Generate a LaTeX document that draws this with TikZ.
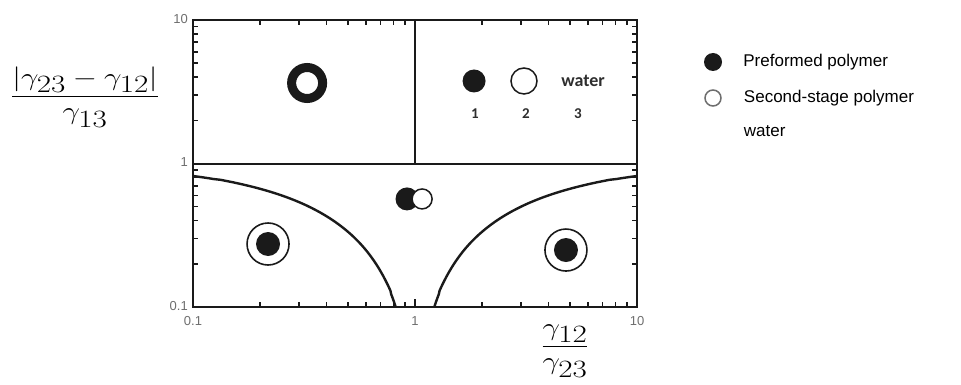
\documentclass[tikz,border=0pt]{standalone}
\usepackage{amsmath}
\usepackage{graphicx}
\usepackage{fontspec}
\setmainfont{Liberation Sans}
\newfontfamily\calibrifont{Carlito}
\usetikzlibrary{positioning}
\definecolor{PlotInk}{HTML}{1A1A1A}
\definecolor{TickGray}{HTML}{6E6E6E}
\definecolor{LabelInk}{HTML}{2E2E2E}

\begin{document}
\begin{tikzpicture}[x=1pt,y=-1pt]
  \tikzset{frameline/.style={draw=PlotInk,line width=2pt},
    boundary/.style={draw=PlotInk,line width=2.4pt},
    tickmark/.style={draw=PlotInk,line width=1.6pt},
    ticklabel/.style={text=TickGray,font=\fontsize{13}{14}\selectfont,inner sep=1pt},
    filleddot/.style={circle,fill=PlotInk,inner sep=0pt},
    opendot/.style={circle,draw=PlotInk,fill=white,line width=1.5pt,inner sep=0pt},
    thickring/.style={circle,draw=PlotInk,line width=9pt,minimum size=31pt,inner sep=0pt},
    thinring/.style={circle,draw=PlotInk,line width=1.6pt,minimum size=42pt,inner sep=0pt},
    phaselabel/.style={text=LabelInk,font=\calibrifont\bfseries\fontsize{15}{17}\selectfont,inner sep=0pt},
    legendtext/.style={font=\fontsize{17}{20}\selectfont,anchor=west,inner sep=0pt},
    axislabel/.style={font=\fontsize{34}{40}\selectfont,inner sep=0pt}}
  \useasboundingbox (0,0) rectangle (961,385);

  % log-log plot, one decade = 222pt across and 143.5pt up
  \begin{scope}[shift={(193,307)},x=222pt,y=143.5pt]
    \foreach \d in {0,1}{
      \foreach \m in {2,...,9}{
        \draw[tickmark] ({\d+log10(\m)},0) -- ++(0,5pt);
        \draw[tickmark] ({\d+log10(\m)},2) -- ++(0,-5pt);
        \draw[tickmark] (0,{\d+log10(\m)}) -- ++(5pt,0);
        \draw[tickmark] (2,{\d+log10(\m)}) -- ++(-5pt,0);
      }
    }
    \draw[tickmark] (1,0) -- ++(0,8pt);
    \draw[frameline] (0,0) rectangle (2,2);
    \draw[frameline] (0,1) -- (2,1);
    \draw[frameline] (1,1) -- (1,2);
    % spreading boundaries
    \draw[boundary] plot[domain=0.1:0.81818,samples=120]
      ({log10(\x)+1},{log10((1-\x)/(1+\x))+1});
    \draw[boundary] plot[domain=0.1:0.81818,samples=120]
      ({1-log10(\x)},{log10((1-\x)/(1+\x))+1});

    \node[ticklabel,left=4pt] (ytick10) at (0,2.01) {10};
    \node[ticklabel,left=4pt] (ytick1) at (0,1.01) {1};
    \node[ticklabel,left=4pt] (ytick01) at (0,0.01) {0.1};
    \node[ticklabel,below=8pt] (xtick01) at (0,0) {0.1};
    \node[ticklabel,below=8pt] (xtick1) at (1,0) {1};
    \node[ticklabel,below=8pt] (xtick10) at (2,0) {10};

    % morphologies
    \node[thickring] (inverted) at (0.514,1.561) {};
    \node[filleddot,minimum size=23pt] (phase1) at (1.266,1.575) {};
    \node[opendot,minimum size=26pt] (phase2) at (1.491,1.575) {};
    \node[phaselabel,font=\calibrifont\bfseries\fontsize{18}{20}\selectfont] (phase3) at (1.757,1.575) {water};
    \node[phaselabel] (num1) at (1.270,1.345) {1};
    \node[phaselabel] (num2) at (1.500,1.345) {2};
    \node[phaselabel] (num3) at (1.734,1.345) {3};
    \node[filleddot,minimum size=23pt] (halfpre) at (0.964,0.753) {};
    \node[opendot,minimum size=20pt] (halfsec) at (1.032,0.753) {};
    \node[thinring] (shellleft) at (0.338,0.439) {};
    \node[filleddot,minimum size=24pt] (coreleft) at (shellleft) {};
    \node[thinring] (shellright) at (1.680,0.397) {};
    \node[filleddot,minimum size=24pt] (coreright) at (shellright) {};
  \end{scope}

  % axis titles
  \node[axislabel] (ytitle) at (85,97)
    {\scalebox{1.25}[1]{$\dfrac{|\gamma_{23}-\gamma_{12}|}{\gamma_{13}}$}};
  \node[axislabel] (xtitle) at (565,351)
    {\scalebox{1.25}[1]{$\dfrac{\gamma_{12}}{\gamma_{23}}$}};

  % legend
  \node[filleddot,minimum size=18pt] (legpre) at (713,62) {};
  \node[opendot,draw=TickGray,minimum size=16pt] (legsec) at (713,98) {};
  \node[legendtext,right=21pt of legpre] (legpretext) {Preformed polymer};
  \node[legendtext,right=22pt of legsec] (legsectext) {Second-stage polymer};
  \node[legendtext,below=19pt of legsectext.south west,anchor=north west] (legwater) {water};
\end{tikzpicture}
\end{document}
